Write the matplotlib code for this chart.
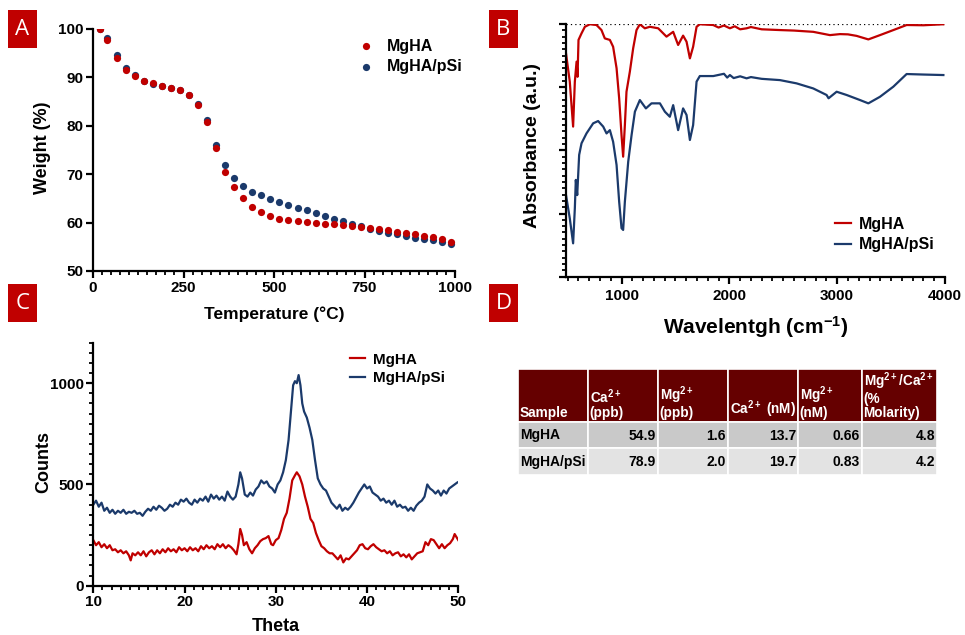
import matplotlib
matplotlib.use("Agg")
import matplotlib.pyplot as plt
from matplotlib.patches import Rectangle
from matplotlib.ticker import MultipleLocator

plt.rcParams['font.family'] = ['Liberation Sans', 'DejaVu Sans']
plt.rcParams['font.weight'] = 'bold'
plt.rcParams['mathtext.fontset'] = 'custom'
plt.rcParams['mathtext.rm'] = 'Liberation Sans:bold'
plt.rcParams['mathtext.bf'] = 'Liberation Sans:bold'
plt.rcParams['mathtext.it'] = 'Liberation Sans:bold'
plt.rcParams['mathtext.default'] = 'rm'

RED = '#C00000'
BLUE = '#1B3A6B'

# ---------------- TGA data (panel A) ----------------
tga_temp = [20, 40, 65, 90, 115, 140, 165, 190, 215, 240, 265, 290, 315, 340,
            365, 390, 415, 440, 465, 490, 515, 540, 565, 590, 615, 640, 665,
            690, 715, 740, 765, 790, 815, 840, 865, 890, 915, 940, 965, 990]
tga_mgha = [100.0, 97.7, 94.1, 91.6, 90.3, 89.2, 88.8, 88.3, 87.8, 87.4, 86.4,
            84.3, 80.8, 75.4, 70.4, 67.4, 65.1, 63.3, 62.2, 61.3, 60.8, 60.5,
            60.3, 60.2, 59.9, 59.8, 59.7, 59.5, 59.3, 59.1, 58.9, 58.6, 58.4,
            58.1, 57.9, 57.6, 57.3, 57.0, 56.6, 56.0]
tga_mgha_psi = [100.0, 98.1, 94.7, 91.9, 90.5, 89.3, 88.7, 88.3, 87.8, 87.4,
                86.4, 84.5, 81.1, 76.1, 72.0, 69.3, 67.6, 66.4, 65.6, 64.8,
                64.2, 63.7, 63.1, 62.5, 61.9, 61.3, 60.8, 60.3, 59.7, 59.2,
                58.7, 58.3, 57.9, 57.6, 57.3, 56.9, 56.7, 56.4, 56.0, 55.6]

# ---------------- FTIR data (panel B) ----------------
ftir_wn_mgha = [485, 520, 551, 567, 583, 592, 601, 629, 660, 706, 768, 814,
                845, 892, 922, 954, 978, 1000, 1015, 1031, 1046, 1077, 1108,
                1139, 1170, 1216, 1263, 1340, 1417, 1479, 1525, 1571, 1603,
                1634, 1664, 1696, 1726, 1850, 1900, 1950, 2005, 2050, 2100,
                2160, 2200, 2300, 2469, 2600, 2778, 2933, 3026, 3100, 3180,
                3289, 3397, 3521, 3644, 3800, 3985]
ftir_abs_mgha = [88.4, 77.2, 59.4, 77.2, 85.1, 79.1, 93.7, 96.3, 98.9, 99.9,
                 99.6, 97.6, 94.3, 93.7, 91.0, 82.5, 70.6, 56.0, 47.5, 60.0,
                 73.2, 81.1, 90.4, 97.6, 99.9, 98.3, 98.9, 98.3, 95.0, 96.9,
                 91.7, 95.4, 93.0, 86.4, 91.0, 98.9, 99.9, 99.6, 98.6, 99.4,
                 98.3, 99.1, 97.9, 98.3, 98.8, 97.9, 97.6, 97.4, 96.9, 95.6,
                 96.0, 95.9, 95.3, 93.9, 95.6, 97.6, 99.6, 99.5, 99.9]
ftir_wn_psi = [485, 520, 551, 567, 576, 589, 607, 629, 675, 737, 783, 830, 861,
               892, 922, 954, 978, 1000, 1015, 1031, 1062, 1093, 1124, 1170,
               1226, 1278, 1356, 1402, 1448, 1479, 1525, 1571, 1603, 1634,
               1664, 1696, 1726, 1851, 1950, 1980, 2005, 2040, 2100, 2160,
               2200, 2300, 2469, 2624, 2778, 2902, 2920, 2995, 3088, 3212,
               3289, 3397, 3521, 3644, 3800, 3985]
ftir_abs_psi = [32.3, 23.1, 13.2, 27.1, 38.3, 32.3, 48.2, 52.8, 56.7, 60.7,
                61.6, 59.4, 56.7, 58.0, 53.4, 44.2, 29.7, 19.2, 18.5, 29.7,
                45.5, 56.0, 65.3, 69.9, 66.6, 68.6, 68.6, 65.3, 63.3, 67.9,
                58.0, 66.6, 64.0, 54.1, 60.0, 77.2, 79.4, 79.4, 80.3, 78.8,
                79.8, 78.6, 79.3, 78.5, 79.0, 78.3, 77.8, 76.5, 74.5, 71.9,
                70.6, 73.2, 71.9, 69.9, 68.6, 71.2, 75.2, 80.2, 80.0, 79.8]

# ---------------- XRD data (panel C) ----------------
xrd_theta_mgha = [10.0, 10.3, 10.6, 10.9, 11.2, 11.5, 11.8, 12.1, 12.4, 12.7,
                  13.0, 13.3, 13.6, 13.9, 14.1, 14.3, 14.6, 14.9, 15.2, 15.5,
                  15.8, 16.1, 16.4, 16.7, 17.0, 17.3, 17.6, 17.9, 18.2, 18.5,
                  18.8, 19.1, 19.4, 19.7, 20.0, 20.3, 20.6, 20.9, 21.2, 21.5,
                  21.8, 22.1, 22.4, 22.7, 23.0, 23.3, 23.6, 23.9, 24.2, 24.5,
                  24.8, 25.1, 25.4, 25.7, 25.9, 26.1, 26.3, 26.5, 26.8, 27.1,
                  27.4, 27.7, 28.0, 28.3, 28.6, 28.9, 29.2, 29.5, 29.7, 30.0,
                  30.3, 30.6, 30.9, 31.2, 31.5, 31.8, 32.1, 32.3, 32.6, 32.9,
                  33.2, 33.5, 33.8, 34.1, 34.4, 34.7, 35.0, 35.3, 35.6, 35.9,
                  36.2, 36.5, 36.8, 37.1, 37.4, 37.7, 38.0, 38.3, 38.6, 38.9,
                  39.2, 39.5, 39.8, 40.1, 40.4, 40.7, 41.0, 41.3, 41.6, 41.9,
                  42.2, 42.5, 42.8, 43.1, 43.4, 43.7, 44.0, 44.3, 44.6, 44.9,
                  45.2, 45.5, 45.8, 46.1, 46.4, 46.7, 47.0, 47.3, 47.6, 47.9,
                  48.2, 48.5, 48.8, 49.1, 49.4, 49.6, 49.8, 50.0]
xrd_counts_mgha = [225, 200, 215, 190, 205, 185, 200, 175, 180, 165,
                   175, 160, 170, 150, 125, 160, 150, 165, 150, 170,
                   145, 165, 175, 155, 175, 160, 180, 165, 185, 170,
                   180, 165, 190, 175, 185, 170, 190, 175, 185, 170,
                   195, 180, 200, 185, 195, 180, 205, 190, 205, 185,
                   200, 190, 175, 155, 205, 280, 250, 200, 215, 180,
                   160, 185, 200, 220, 230, 235, 245, 205, 200, 225,
                   235, 275, 330, 360, 430, 520, 545, 560, 540, 500,
                   440, 390, 330, 310, 260, 225, 195, 185, 170, 160,
                   160, 145, 130, 150, 115, 135, 130, 145, 160, 175,
                   200, 205, 185, 180, 195, 205, 190, 180, 170, 175,
                   160, 170, 150, 160, 165, 145, 155, 140, 155, 130,
                   145, 160, 165, 170, 215, 200, 230, 225, 205, 185,
                   205, 185, 200, 210, 230, 255, 240, 225]
xrd_theta_psi = [10.0, 10.3, 10.6, 10.9, 11.2, 11.5, 11.8, 12.1, 12.4, 12.7,
                 13.0, 13.3, 13.6, 13.9, 14.2, 14.5, 14.8, 15.1, 15.4, 15.7,
                 16.0, 16.3, 16.6, 16.9, 17.2, 17.5, 17.8, 18.1, 18.4, 18.7,
                 19.0, 19.3, 19.6, 19.9, 20.2, 20.5, 20.8, 21.1, 21.4, 21.7,
                 22.0, 22.3, 22.6, 22.9, 23.2, 23.5, 23.8, 24.1, 24.4, 24.7,
                 25.0, 25.3, 25.6, 25.9, 26.1, 26.3, 26.6, 26.9, 27.2, 27.5,
                 27.8, 28.1, 28.4, 28.7, 29.0, 29.3, 29.6, 29.9, 30.2, 30.5,
                 30.8, 31.1, 31.4, 31.7, 31.9, 32.1, 32.3, 32.5, 32.7, 32.9,
                 33.1, 33.4, 33.7, 34.0, 34.3, 34.6, 34.9, 35.2, 35.5, 35.8,
                 36.1, 36.4, 36.7, 37.0, 37.3, 37.6, 37.9, 38.2, 38.5, 38.8,
                 39.1, 39.4, 39.7, 40.0, 40.3, 40.6, 40.9, 41.2, 41.5, 41.8,
                 42.1, 42.4, 42.7, 43.0, 43.3, 43.6, 43.9, 44.2, 44.5, 44.8,
                 45.1, 45.4, 45.7, 46.0, 46.3, 46.6, 46.9, 47.2, 47.5, 47.8,
                 48.1, 48.4, 48.7, 49.0, 49.3, 49.6, 49.9]
xrd_counts_psi = [400, 420, 390, 410, 370, 385, 360, 375, 355, 370,
                  360, 375, 355, 365, 360, 370, 355, 360, 345, 365,
                  380, 370, 390, 375, 395, 385, 370, 380, 400, 390,
                  410, 400, 425, 415, 430, 410, 400, 425, 410, 430,
                  420, 440, 415, 450, 430, 445, 425, 440, 420, 465,
                  440, 425, 440, 500, 560, 530, 450, 440, 460, 445,
                  475, 490, 520, 505, 515, 490, 480, 460, 500, 520,
                  560, 620, 720, 880, 990, 1010, 1000, 1040, 990, 900,
                  860, 830, 780, 720, 620, 530, 500, 480, 470, 440,
                  410, 395, 380, 400, 370, 385, 375, 390, 410, 435,
                  460, 480, 500, 480, 490, 460, 450, 440, 420, 430,
                  410, 420, 400, 420, 390, 400, 385, 390, 370, 385,
                  370, 395, 410, 420, 440, 500, 480, 470, 455, 470,
                  445, 470, 455, 480, 490, 500, 510]

# ---------------- ICP table (panel D) ----------------
table_header = ['Sample', 'Ca$^{2+}$\n(ppb)', 'Mg$^{2+}$\n(ppb)',
                'Ca$^{2+}$ (nM)', 'Mg$^{2+}$\n(nM)',
                'Mg$^{2+}$/Ca$^{2+}$\n(%\nMolarity)']
table_samples = ['MgHA', 'MgHA/pSi']
ca_ppb = ['54.9', '78.9']
mg_ppb = ['1.6', '2.0']
ca_nm = ['13.7', '19.7']
mg_nm = ['0.66', '0.83']
mg_ca_ratio = ['4.8', '4.2']

W, H = 965, 635
fig = plt.figure(figsize=(W / 100, H / 100), dpi=100)


def ax_px(left, top, right, bottom):
    return fig.add_axes([left / W, 1 - bottom / H, (right - left) / W,
                         (bottom - top) / H])


def style_axes(ax, pad=2):
    for s in ('top', 'right'):
        ax.spines[s].set_visible(False)
    for s in ('left', 'bottom'):
        ax.spines[s].set_linewidth(1.6)
    ax.tick_params(which='major', direction='out', length=5, width=1.6,
                   labelsize=11, pad=pad)
    ax.tick_params(which='minor', direction='out', length=3, width=1.3)
    for lab in ax.get_xticklabels() + ax.get_yticklabels():
        lab.set_fontweight('bold')


# ---- Panel A: TGA ----
axA = ax_px(93, 29, 455, 271)
axA.scatter(tga_temp, tga_mgha_psi, s=27, color=BLUE, label='MgHA/pSi',
            zorder=3, linewidths=0)
axA.scatter(tga_temp, tga_mgha, s=27, color=RED, label='MgHA', zorder=4,
            linewidths=0)
axA.set_xlim(0, 1000)
axA.set_ylim(50, 100)
axA.set_xticks([0, 250, 500, 750, 1000])
axA.xaxis.set_minor_locator(MultipleLocator(25))
axA.set_yticks([50, 60, 70, 80, 90, 100])
style_axes(axA)
axA.set_xlabel('Temperature (°C)', fontsize=12.5, fontweight='bold', va='top')
axA.xaxis.set_label_coords(0.5, -0.147)
axA.set_ylabel('Weight (%)', fontsize=13, fontweight='bold')
axA.yaxis.set_label_coords(-0.115, 0.51)
hA, lA = axA.get_legend_handles_labels()
axA.legend([hA[1], hA[0]], [lA[1], lA[0]], loc='upper right',
           bbox_to_anchor=(1.06, 1.02), frameon=False, fontsize=11.5,
           handletextpad=0.3, labelspacing=0.35, markerscale=1.0)

# ---- Panel B: FTIR ----
axB = ax_px(566, 24, 945, 276.7)
axB.plot(ftir_wn_mgha, ftir_abs_mgha, color=RED, lw=1.6, label='MgHA')
axB.plot(ftir_wn_psi, ftir_abs_psi, color=BLUE, lw=1.6, label='MgHA/pSi')
axB.axhline(100, color='black', lw=0.9, ls=(0, (1, 2.5)), zorder=0)
axB.set_xlim(485, 4000)
axB.set_ylim(0, 100)
axB.set_xticks([1000, 2000, 3000, 4000])
axB.xaxis.set_minor_locator(MultipleLocator(100))
axB.set_yticks([0, 25, 50, 75, 100])
axB.yaxis.set_minor_locator(MultipleLocator(2.5))
axB.set_yticklabels([])
style_axes(axB, pad=4)
axB.set_xlabel('Wavelentgh (cm$^{-1}$)', fontsize=15, fontweight='bold',
               labelpad=8)
axB.set_ylabel('Absorbance (a.u.)', fontsize=14, fontweight='bold')
axB.yaxis.set_label_coords(-0.066, 0.518)
axB.legend(loc='lower right', bbox_to_anchor=(1.01, 0.04), frameon=False,
           fontsize=11.5, handlelength=1.0, handletextpad=0.5,
           labelspacing=0.35)

# ---- Panel C: XRD ----
axC = ax_px(93.3, 342.7, 458.3, 585.7)
axC.plot(xrd_theta_mgha, xrd_counts_mgha, color=RED, lw=1.6, label='MgHA')
axC.plot(xrd_theta_psi, xrd_counts_psi, color=BLUE, lw=1.6, label='MgHA/pSi')
axC.set_xlim(10, 50)
axC.set_ylim(0, 1200)
axC.set_xticks([10, 20, 30, 40, 50])
axC.xaxis.set_minor_locator(MultipleLocator(1))
axC.set_yticks([0, 500, 1000])
axC.yaxis.set_minor_locator(MultipleLocator(50))
style_axes(axC)
axC.set_xlabel('Theta', fontsize=13, fontweight='bold', va='top')
axC.xaxis.set_label_coords(0.5, -0.132)
axC.set_ylabel('Counts', fontsize=13, fontweight='bold')
axC.yaxis.set_label_coords(-0.112, 0.51)
axC.legend(loc='upper right', bbox_to_anchor=(1.0, 1.015), frameon=False,
           fontsize=11, handlelength=1.0, handletextpad=0.5,
           labelspacing=0.3)

# ---- Overlay: panel letters and table ----
ov = fig.add_axes([0, 0, 1, 1], zorder=-1)
ov.set_xlim(0, W)
ov.set_ylim(H, 0)
ov.axis('off')

panel_boxes = {'A': (8, 10), 'B': (489, 10), 'C': (8, 284), 'D': (489, 284)}
for letter, (bx, by) in panel_boxes.items():
    ov.add_patch(Rectangle((bx, by), 29, 38, facecolor=RED, edgecolor='none'))
    ov.text(bx + 14.5, by + 19.5, letter, color='white', fontsize=16,
            fontweight='normal', family=['Open Sans', 'DejaVu Sans'],
            ha='center', va='center')

col_edges = [518, 588, 658, 728, 798, 862, 937]
row_edges = [369, 422, 448, 475]
HEAD_BG = '#650000'
ROW_BG = ['#C9C9C9', '#E3E3E3']

for j, head in enumerate(table_header):
    x0, x1 = col_edges[j], col_edges[j + 1]
    ov.add_patch(Rectangle((x0, row_edges[0]), x1 - x0,
                           row_edges[1] - row_edges[0], facecolor=HEAD_BG,
                           edgecolor='white', lw=1.2))
    ov.text(x0 + 1.5, row_edges[1] - 1.5, head, color='white', fontsize=9.8,
            fontweight='bold', ha='left', va='bottom', linespacing=1.0)

rows = list(zip(table_samples, ca_ppb, mg_ppb, ca_nm, mg_nm, mg_ca_ratio))
for i, row in enumerate(rows):
    y0, y1 = row_edges[i + 1], row_edges[i + 2]
    for j, val in enumerate(row):
        x0, x1 = col_edges[j], col_edges[j + 1]
        ov.add_patch(Rectangle((x0, y0), x1 - x0, y1 - y0,
                               facecolor=ROW_BG[i], edgecolor='white',
                               lw=1.2))
        if j == 0:
            ov.text(x0 + 2, (y0 + y1) / 2 + 0.5, val, fontsize=10,
                    fontweight='bold', ha='left', va='center')
        else:
            ov.text(x1 - 2, (y0 + y1) / 2 + 0.5, val, fontsize=10,
                    fontweight='bold', ha='right', va='center')

fig.savefig('out.png', dpi=100)
